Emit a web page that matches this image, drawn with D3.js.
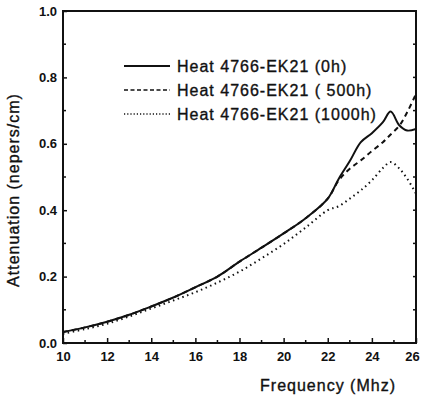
<!DOCTYPE html>
<html>
<head>
<meta charset="utf-8">
<script src="https://cdn.jsdelivr.net/npm/d3@7"></script>
<style>
  body { margin: 0; background: #fff; }
  text { font-family: "Liberation Sans", Arial, sans-serif; fill: #111; }
  .heavy { stroke: #111; stroke-width: 0.35px; letter-spacing: 1px; }
</style>
</head>
<body>
<div id="chart"></div>
<script>
// Attenuation vs frequency for three ageing times

// Data
let freq = [10, 11, 12, 13, 14, 15, 16, 17, 18, 19, 20, 21, 22, 22.5, 23, 23.5, 24, 24.5, 24.85, 25.25, 25.6, 26];
let att0h = [0.033, 0.047, 0.064, 0.085, 0.110, 0.137, 0.168, 0.200, 0.245, 0.287, 0.330, 0.376, 0.435, 0.495, 0.548, 0.605, 0.632, 0.665, 0.697, 0.655, 0.640, 0.645];
let att500h = [0.033, 0.047, 0.064, 0.085, 0.110, 0.137, 0.168, 0.200, 0.245, 0.287, 0.330, 0.376, 0.435, 0.490, 0.525, 0.550, 0.578, 0.605, 0.628, 0.655, 0.695, 0.750];
let att1000h = [0.028, 0.042, 0.058, 0.080, 0.104, 0.128, 0.153, 0.182, 0.215, 0.255, 0.298, 0.348, 0.400, 0.412, 0.435, 0.460, 0.490, 0.527, 0.545, 0.525, 0.495, 0.450];
let seriesNames = ["Heat 4766-EK21 (0h)", "Heat 4766-EK21 ( 500h)", "Heat 4766-EK21 (1000h)"];
let xTicks = [10, 12, 14, 16, 18, 20, 22, 24, 26];
let yTicks = [0, 0.2, 0.4, 0.6, 0.8, 1.0];
let yTickLabels = ["0.0", "0.2", "0.4", "0.6", "0.8", "1.0"];

let svgWidth = 422;
let svgHeight = 401;
let margin = { top: 11, right: 6, bottom: 58, left: 63 };
let width = svgWidth - margin.left - margin.right;
let height = svgHeight - margin.top - margin.bottom;

let svg = d3.select("#chart")
    .append("svg")
    .attr("width", svgWidth)
    .attr("height", svgHeight);

let chartGroup = svg.append("g")
    .attr("transform", `translate(${margin.left}, ${margin.top})`);

let xScale = d3.scaleLinear().domain([10, 26]).range([0, width]);
let yScale = d3.scaleLinear().domain([0, 1]).range([height, 0]);

// frame
chartGroup.append("rect")
    .attr("width", width)
    .attr("height", height)
    .attr("fill", "none")
    .attr("stroke", "#111")
    .attr("stroke-width", 2);

// bottom axis: inward ticks
let xMinor = d3.range(11, 26, 2);
let bottomAxis = d3.axisBottom(xScale).tickValues(xTicks).tickSize(-5).tickPadding(9).tickFormat(d3.format("d"));
let gx = chartGroup.append("g")
    .attr("transform", `translate(0, ${height})`)
    .call(bottomAxis);
gx.select(".domain").remove();
gx.selectAll("line").attr("stroke", "#111").attr("stroke-width", 1.5);
gx.selectAll("text").attr("font-size", 13).attr("font-weight", "bold")
    .attr("dx", d => d === 26 ? -4 : 0);
gx.selectAll(".minor").data(xMinor).enter().append("line")
    .attr("x1", d => xScale(d)).attr("x2", d => xScale(d))
    .attr("y1", 0).attr("y2", -3)
    .attr("stroke", "#111").attr("stroke-width", 1.5);

// left axis: inward ticks
let yMinor = d3.range(0.1, 1, 0.2);
let leftAxis = d3.axisLeft(yScale).tickValues(yTicks).tickSize(-4).tickPadding(6)
    .tickFormat((d, i) => yTickLabels[i]);
let gy = chartGroup.append("g").call(leftAxis);
gy.select(".domain").remove();
gy.selectAll("line").attr("stroke", "#111").attr("stroke-width", 1.5);
gy.selectAll("text").attr("font-size", 13).attr("font-weight", "bold");
gy.selectAll(".minor").data(yMinor).enter().append("line")
    .attr("x1", 0).attr("x2", 3)
    .attr("y1", d => yScale(d)).attr("y2", d => yScale(d))
    .attr("stroke", "#111").attr("stroke-width", 1.5);

// right side ticks
let gr = chartGroup.append("g");
gr.selectAll("line").data(d3.range(0.1, 1, 0.1)).enter().append("line")
    .attr("x1", width).attr("x2", width - 3)
    .attr("y1", d => yScale(d)).attr("y2", d => yScale(d))
    .attr("stroke", "#111").attr("stroke-width", 1.5);

// lines
chartGroup.append("clipPath").attr("id", "clip")
    .append("rect").attr("width", width).attr("height", height);

let line = d3.line()
    .x(d => xScale(d[0]))
    .y(d => yScale(d[1]))
    .curve(d3.curveCatmullRom.alpha(0.5));

let styles = [
    { dash: null, w: 2 },
    { dash: "5,4", w: 2 },
    { dash: "1.5,3.5", w: 2 }
];
let allSeries = [att0h, att500h, att1000h];

allSeries.forEach(function (vals, i) {
    chartGroup.append("path")
        .datum(freq.map((f, j) => [f, vals[j]]))
        .attr("clip-path", "url(#clip)")
        .attr("d", line)
        .attr("fill", "none")
        .attr("stroke", "#111")
        .attr("stroke-width", styles[i].w)
        .attr("stroke-dasharray", styles[i].dash);
});

// legend
let legend = svg.append("g").attr("transform", "translate(124, 66)");
seriesNames.forEach(function (name, i) {
    let row = legend.append("g").attr("transform", `translate(0, ${i * 24})`);
    row.append("line")
        .attr("x1", 0).attr("x2", 46)
        .attr("stroke", "#111")
        .attr("stroke-width", styles[i].dash ? 1.5 : 2)
        .attr("stroke-dasharray", styles[i].dash ? (i === 1 ? "4,2.5" : "1.2,2") : null);
    row.append("text")
        .attr("class", "heavy")
        .attr("x", 53).attr("y", 6)
        .attr("font-size", 16)
        .text(name);
});

// axis titles
svg.append("text")
    .attr("class", "heavy")
    .attr("x", 328).attr("y", 391)
    .attr("text-anchor", "middle")
    .attr("font-size", 16)
    .text("Frequency (Mhz)");

svg.append("text")
    .attr("class", "heavy")
    .attr("transform", "translate(19, 190) rotate(-90)")
    .attr("text-anchor", "middle")
    .attr("font-size", 16)
    .text("Attenuation (nepers/cm)");
</script>
</body>
</html>
